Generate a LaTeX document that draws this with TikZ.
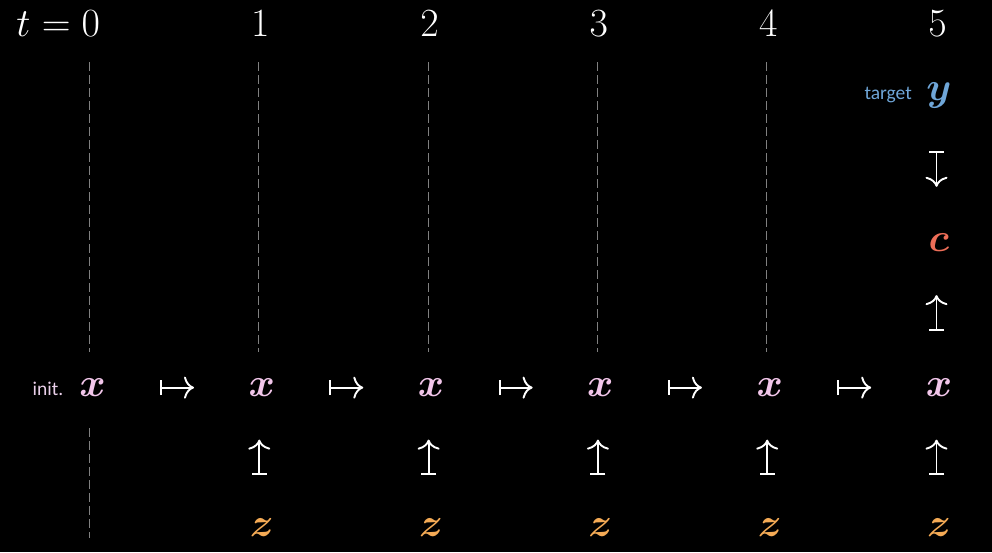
\RequirePackage{fix-cm}
\documentclass[tikz,border=0pt]{standalone}
\usepackage{bm}
\usepackage{fontspec}
\newfontfamily\carl{Carlito}
\usetikzlibrary{arrows.meta}
\definecolor{xcol}{HTML}{F2C6EA}
\definecolor{initcol}{HTML}{EAD0EA}
\definecolor{zcol}{HTML}{F4AA55}
\definecolor{ycol}{HTML}{6FA6D8}
\definecolor{ccol}{HTML}{EE6E58}
\definecolor{guidecol}{HTML}{808080}
\tikzset{
  sym/.style={font=\fontsize{40}{48}\selectfont, anchor=base, inner sep=0pt, outer sep=0pt},
  lbl/.style={font=\carl\fontsize{19.5}{23}\selectfont, anchor=base east, inner sep=0pt},
  mapto/.style={white, line width=1.9pt, arrows={Bar[width=15pt]-Computer Modern Rightarrow[length=10pt,width=22pt,line width=1.9pt]}},
  vmap/.style={mapto, transform canvas={xshift=-2.5pt}},
  guide/.style={guidecol, line width=0.9pt, dash pattern=on 9pt off 4pt}
}
\begin{document}
\begin{tikzpicture}[x=1pt,y=-1pt]
\fill[black] (0,0) rectangle (992,552);
\useasboundingbox (0,0) rectangle (992,552);
% time labels
\node[sym, anchor=base east, text=white] (lab0) at (100,36.5) {$t=0$};
\foreach \i/\c in {1/258.8,2/428.1,3/597.4,4/766.7,5/936} {
  \node[sym, text=white] (lab\i) at (\c+1.5,36.5) {$\i$};
}
% x row
\foreach \i/\c in {0/89.5,1/258.8,2/428.1,3/597.4,4/766.7,5/936} {
  \node[sym, text=xcol] (x\i) at (\c+3,396.5) {$\bm{x}$};
}
% z row
\foreach \i/\c in {1/258.8,2/428.1,3/597.4,4/766.7,5/936} {
  \node[sym, text=zcol] (z\i) at (\c+3,536.5) {$\bm{z}$};
  \draw[vmap, shorten <=53pt, shorten >=52pt] (z\i.center) -- (x\i.center);
}
% horizontal maps
\foreach \i [evaluate=\i as \j using int(\i+1)] in {0,1,2,3,4} {
  \draw[mapto, shorten <=67.5pt, shorten >=67.8pt] (x\i.center) -- (x\j.center);
}
% guides
\foreach \c in {89.5,258.8,428.1,597.4,766.7} {
  \draw[guide] (\c,62) -- (\c,352);
}
\draw[guide] (89.5,428) -- (89.5,538);
% column 5 top
\node[sym, text=ycol] (y) at (939,100) {$\bm{y}$};
\node[sym, text=ccol] (c) at (939,251) {$\bm{c}$};
\draw[vmap, shorten <=55.7pt, shorten >=55.3pt] (y.center) -- (c.center);
\draw[vmap, shorten <=57pt, shorten >=53pt] (x5.center) -- (c.center);
% labels
\node[lbl, text=ycol] (target) at (912,99) {target};
\node[lbl, text=initcol] (init) at (63.5,395) {init.};
\end{tikzpicture}
\end{document}
